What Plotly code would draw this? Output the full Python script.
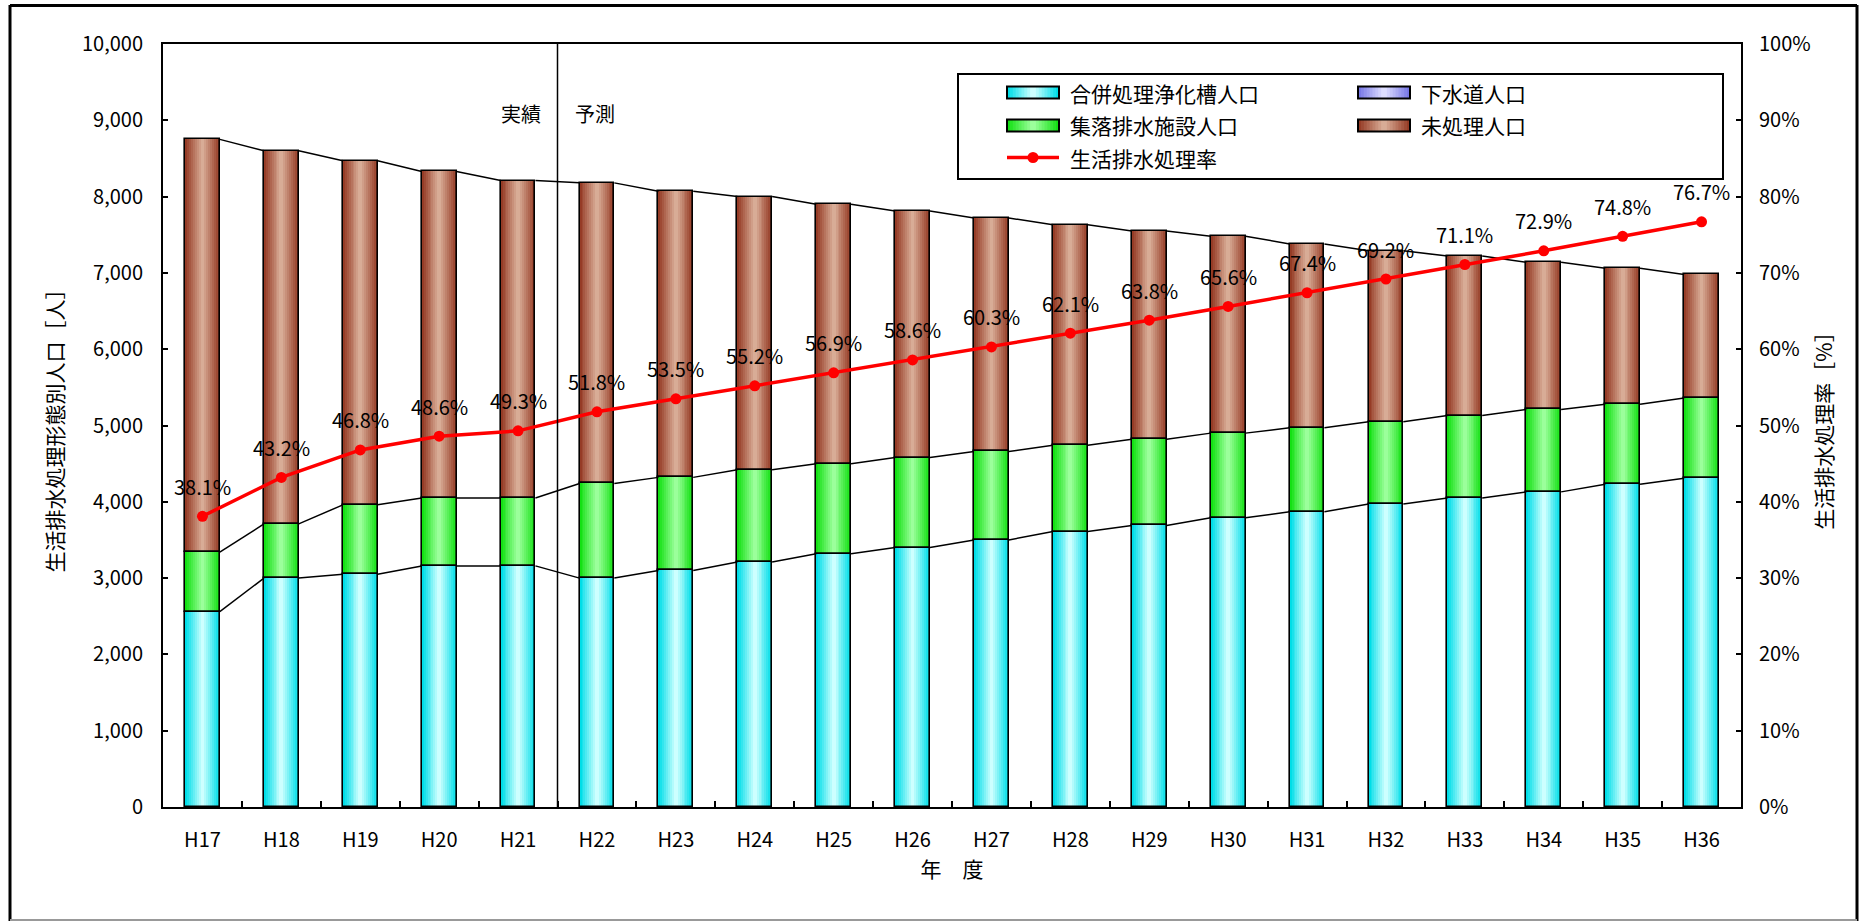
import plotly.graph_objects as go

# ---- data -------------------------------------------------------------
years = ["H17", "H18", "H19", "H20", "H21", "H22", "H23", "H24", "H25", "H26",
         "H27", "H28", "H29", "H30", "H31", "H32", "H33", "H34", "H35", "H36"]
johkaso = [2560, 3000, 3050, 3160, 3160, 3000, 3100, 3210, 3320, 3400,
           3500, 3610, 3690, 3790, 3870, 3970, 4050, 4130, 4230, 4310]   # 合併処理浄化槽人口
sewer = [0, 0, 0, 0, 0, 0, 0, 0, 0, 0,
         0, 0, 0, 0, 0, 0, 0, 0, 0, 0]                                  # 下水道人口
shuraku = [780, 710, 910, 890, 890, 1240, 1220, 1210, 1180, 1180,
           1160, 1130, 1130, 1110, 1100, 1080, 1080, 1080, 1050, 1050]  # 集落排水施設人口
mishori = [5410, 4890, 4510, 4280, 4160, 3940, 3750, 3580, 3400, 3230,
           3060, 2890, 2730, 2580, 2410, 2240, 2090, 1930, 1780, 1620]  # 未処理人口
rate = [38.1, 43.2, 46.8, 48.6, 49.3, 51.8, 53.5, 55.2, 56.9, 58.6,
        60.3, 62.1, 63.8, 65.6, 67.4, 69.2, 71.1, 72.9, 74.8, 76.7]     # 生活排水処理率

# ---- layout geometry (pixels) -----------------------------------------
W_FIG, H_FIG = 1860, 921
M_L, M_R, M_T, M_B = 163, 119, 44, 114
PW = W_FIG - M_L - M_R
PH = H_FIG - M_T - M_B


def px(x):
    return (x - M_L) / PW


def py(y):
    return (H_FIG - M_B - y) / PH


FONT = "Noto Sans CJK JP"
BAR_W = 0.44
N_LAYERS = 9

CYAN = ((0, 222, 232), (205, 255, 255))
PURPLE = ((120, 120, 230), (222, 222, 255))
GREEN = ((20, 225, 20), (155, 255, 155))
BROWN = ((150, 60, 38), (216, 172, 150))


def lerp(c, t):
    a, b = c
    return "rgb(%d,%d,%d)" % tuple(round(a[k] + (b[k] - a[k]) * t) for k in range(3))


n = len(years)
xi = list(range(n))
base_sewer = johkaso
base_shuraku = [a + b for a, b in zip(johkaso, sewer)]
base_mishori = [a + b for a, b in zip(base_shuraku, shuraku)]
total = [a + b for a, b in zip(base_mishori, mishori)]

fig = go.Figure()

# stacked bars: each segment built from nested bars for a side-to-centre shading
segments = [
    (johkaso, [0] * n, CYAN),
    (shuraku, base_shuraku, GREEN),
    (mishori, base_mishori, BROWN),
]
for vals, base, col in segments:
    for j in range(N_LAYERS):
        t = j / (N_LAYERS - 1)
        fig.add_trace(go.Bar(
            x=xi, y=vals, base=base,
            width=BAR_W * (N_LAYERS - j) / N_LAYERS,
            marker=dict(color=lerp(col, t), line=dict(width=0)),
            showlegend=False, hoverinfo="skip"))
for vals, base, col in segments:
    fig.add_trace(go.Bar(
        x=xi, y=vals, base=base, width=BAR_W,
        marker=dict(color="rgba(0,0,0,0)", line=dict(color="black", width=1.6)),
        showlegend=False, hoverinfo="skip"))

# series lines joining the segment tops of neighbouring bars
for level in (base_shuraku, base_mishori, total):
    lx, ly = [], []
    for i in range(n - 1):
        lx += [i + BAR_W / 2, i + 1 - BAR_W / 2, None]
        ly += [level[i], level[i + 1], None]
    fig.add_trace(go.Scatter(x=lx, y=ly, mode="lines",
                             line=dict(color="black", width=1.5),
                             showlegend=False, hoverinfo="skip"))

# treatment rate on the secondary axis
fig.add_trace(go.Scatter(
    x=xi, y=rate, yaxis="y2", mode="lines+markers",
    line=dict(color="#ff0000", width=3.5),
    marker=dict(color="#ff0000", size=11),
    showlegend=False))

annotations = []
for i, r in enumerate(rate):
    annotations.append(dict(
        x=i, y=r, xref="x", yref="y2", text="%.1f%%" % r,
        showarrow=False, yshift=30, font=dict(family=FONT, size=20, color="black")))

annotations += [
    dict(x=4.5, y=py(97), xref="x", yref="paper", text="実績", showarrow=False,
         xanchor="right", xshift=-15, font=dict(family=FONT, size=20, color="black")),
    dict(x=4.5, y=py(97), xref="x", yref="paper", text="予測", showarrow=False,
         xanchor="left", xshift=15, font=dict(family=FONT, size=20, color="black")),
]

shapes = [
    # actual / forecast divider
    dict(type="line", xref="x", yref="paper", x0=4.5, x1=4.5, y0=0, y1=1,
         line=dict(color="black", width=1.5)),
    # outer frame
    dict(type="line", xref="paper", yref="paper", x0=px(10), x1=px(10), y0=py(5), y1=py(921),
         line=dict(color="black", width=3)),
    dict(type="line", xref="paper", yref="paper", x0=px(10), x1=px(1857), y0=py(5.5), y1=py(5.5),
         line=dict(color="black", width=3)),
    dict(type="line", xref="paper", yref="paper", x0=px(1857), x1=px(1857), y0=py(5), y1=py(921),
         line=dict(color="black", width=3)),
    dict(type="line", xref="paper", yref="paper", x0=px(10), x1=px(1857), y0=py(920), y1=py(920),
         line=dict(color="#999999", width=2)),
    # legend box
    dict(type="rect", xref="paper", yref="paper", x0=px(958), x1=px(1723), y0=py(179), y1=py(74),
         fillcolor="white", line=dict(color="black", width=2), layer="above"),
]

# legend entries
SW_W, SW_H = 52, 12
legend_items = [
    ("合併処理浄化槽人口", CYAN, 1007, 92.5),
    ("下水道人口", PURPLE, 1358, 92.5),
    ("集落排水施設人口", GREEN, 1007, 125.5),
    ("未処理人口", BROWN, 1358, 125.5),
]
for label, col, sx, ry in legend_items:
    cx = sx + SW_W / 2
    for j in range(N_LAYERS):
        t = j / (N_LAYERS - 1)
        hw = SW_W / 2 * (N_LAYERS - j) / N_LAYERS
        shapes.append(dict(type="rect", xref="paper", yref="paper",
                           x0=px(cx - hw), x1=px(cx + hw),
                           y0=py(ry + SW_H / 2), y1=py(ry - SW_H / 2),
                           fillcolor=lerp(col, t), line=dict(width=0), layer="above"))
    shapes.append(dict(type="rect", xref="paper", yref="paper",
                       x0=px(sx), x1=px(sx + SW_W), y0=py(ry + SW_H / 2), y1=py(ry - SW_H / 2),
                       line=dict(color="black", width=2), layer="above"))
    annotations.append(dict(x=px(sx + SW_W + 9), y=py(ry), xref="paper", yref="paper",
                            text=label, showarrow=False, xanchor="left", yanchor="middle",
                            font=dict(family=FONT, size=21, color="black")))

ry = 157.5
shapes.append(dict(type="line", xref="paper", yref="paper", x0=px(1007), x1=px(1059),
                   y0=py(ry), y1=py(ry), line=dict(color="#ff0000", width=3.5), layer="above"))
shapes.append(dict(type="circle", xref="paper", yref="paper", xsizemode="pixel", ysizemode="pixel",
                   xanchor=px(1033), yanchor=py(ry), x0=-5.5, x1=5.5, y0=-5.5, y1=5.5,
                   fillcolor="#ff0000", line=dict(color="#ff0000", width=0), layer="above"))
annotations.append(dict(x=px(1068), y=py(ry), xref="paper", yref="paper",
                        text="生活排水処理率", showarrow=False, xanchor="left", yanchor="middle",
                        font=dict(family=FONT, size=21, color="black")))

fig.update_layout(
    width=W_FIG, height=H_FIG,
    margin=dict(l=M_L, r=M_R, t=M_T, b=M_B, autoexpand=False),
    paper_bgcolor="white", plot_bgcolor="white",
    barmode="overlay", bargap=0,
    font=dict(family=FONT, size=20, color="black"),
    showlegend=False,
    xaxis=dict(
        range=[-0.5, n - 0.5], tickmode="array", tickvals=xi, ticktext=years,
        ticks="", showgrid=False, zeroline=False,
        showline=True, linecolor="black", linewidth=2, mirror=True,
        ticklabelstandoff=14,
        minor=dict(tickmode="array", tickvals=[i + 0.5 for i in range(n - 1)],
                   ticks="inside", ticklen=6, tickcolor="black", tickwidth=1.5, showgrid=False),
        title=dict(text="年　度", font=dict(family=FONT, size=21), standoff=8),
    ),
    yaxis=dict(
        range=[0, 10000], dtick=1000, tickformat=",d",
        ticks="inside", ticklen=5, tickwidth=1.5, tickcolor="black",
        showgrid=False, zeroline=False,
        showline=True, linecolor="black", linewidth=2,
        ticklabelstandoff=14,
        title=dict(text="生活排水処理形態別人口［人］", font=dict(family=FONT, size=21), standoff=13),
    ),
    yaxis2=dict(
        overlaying="y", side="right", range=[0, 100], dtick=10, ticksuffix="%",
        ticks="inside", ticklen=5, tickwidth=1.5, tickcolor="black",
        showgrid=False, zeroline=False,
        showline=True, linecolor="black", linewidth=2,
        ticklabelstandoff=12,
        title=dict(text="生活排水処理率［%］", font=dict(family=FONT, size=21), standoff=8),
    ),
    annotations=annotations,
    shapes=shapes,
)

fig.write_html("out.html")
